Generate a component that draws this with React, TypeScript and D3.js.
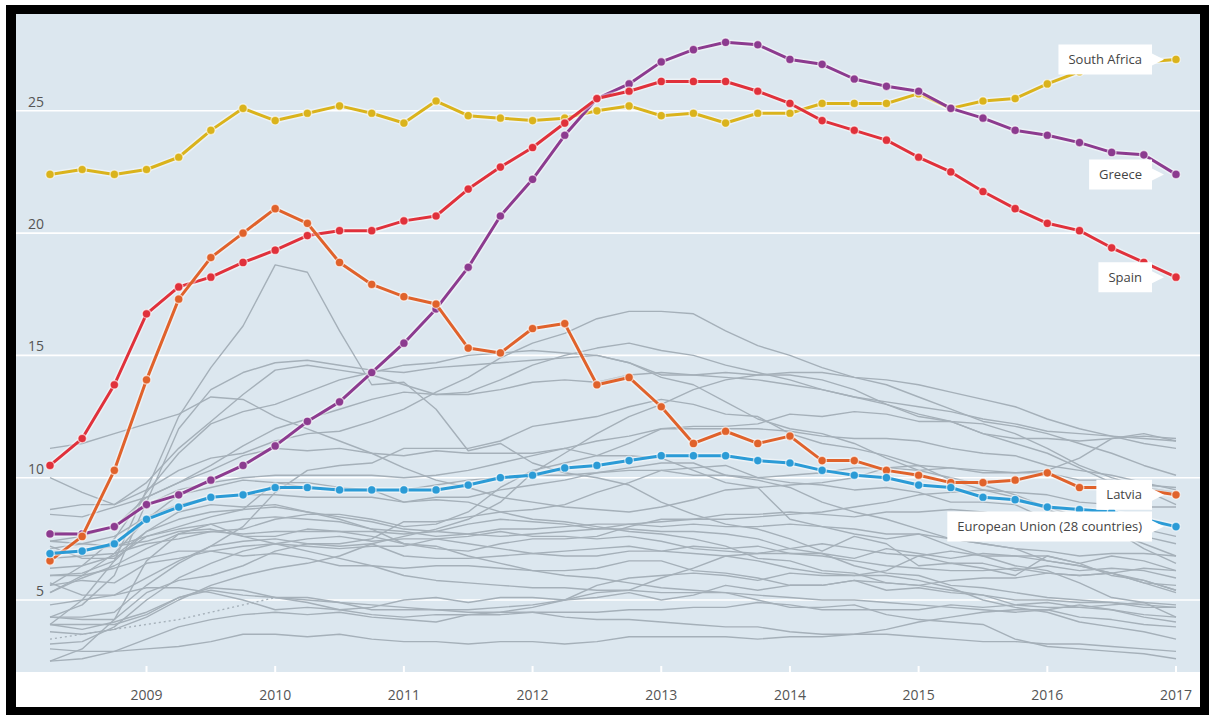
import React from "react";
import { scaleLinear, line, range } from "d3";

const width = 1209;
const height = 715;

// quarterly observations, 2008 Q2 .. 2017 Q1
const quarters = range(36).map((i) => 2008.25 + i * 0.25);
const yearTicks = [2009, 2010, 2011, 2012, 2013, 2014, 2015, 2016, 2017];
const valueTicks = [5, 10, 15, 20, 25];

const southAfrica = [22.4, 22.6, 22.4, 22.6, 23.1, 24.2, 25.1, 24.6, 24.9, 25.2, 24.9, 24.5, 25.4, 24.8, 24.7, 24.6, 24.7, 25.0, 25.2, 24.8, 24.9, 24.5, 24.9, 24.9, 25.3, 25.3, 25.3, 25.7, 25.1, 25.4, 25.5, 26.1, 26.6, 26.9, 27.0, 27.1];
const greece = [7.7, 7.7, 8.0, 8.9, 9.3, 9.9, 10.5, 11.3, 12.3, 13.1, 14.3, 15.5, 16.9, 18.6, 20.7, 22.2, 24.0, 25.5, 26.1, 27.0, 27.5, 27.8, 27.7, 27.1, 26.9, 26.3, 26.0, 25.8, 25.1, 24.7, 24.2, 24.0, 23.7, 23.3, 23.2, 22.4];
const spain = [10.5, 11.6, 13.8, 16.7, 17.8, 18.2, 18.8, 19.3, 19.9, 20.1, 20.1, 20.5, 20.7, 21.8, 22.7, 23.5, 24.5, 25.5, 25.8, 26.2, 26.2, 26.2, 25.8, 25.3, 24.6, 24.2, 23.8, 23.1, 22.5, 21.7, 21.0, 20.4, 20.1, 19.4, 18.8, 18.2];
const latvia = [6.6, 7.6, 10.3, 14.0, 17.3, 19.0, 20.0, 21.0, 20.4, 18.8, 17.9, 17.4, 17.1, 15.3, 15.1, 16.1, 16.3, 13.8, 14.1, 12.9, 11.4, 11.9, 11.4, 11.7, 10.7, 10.7, 10.3, 10.1, 9.8, 9.8, 9.9, 10.2, 9.6, 9.6, 9.5, 9.3];
const euro28 = [6.9, 7.0, 7.3, 8.3, 8.8, 9.2, 9.3, 9.6, 9.6, 9.5, 9.5, 9.5, 9.5, 9.7, 10.0, 10.1, 10.4, 10.5, 10.7, 10.9, 10.9, 10.9, 10.7, 10.6, 10.3, 10.1, 10.0, 9.7, 9.6, 9.2, 9.1, 8.8, 8.7, 8.6, 8.3, 8.0];

const highlighted = [
  { name: "South Africa", values: southAfrica, color: "#dab31c" },
  { name: "Greece", values: greece, color: "#8c3b8f" },
  { name: "Spain", values: spain, color: "#e0313b" },
  { name: "Latvia", values: latvia, color: "#e0622b" },
  { name: "European Union (28 countries)", values: euro28, color: "#2b9bd6" },
];

// the other countries, drawn in grey
const estonia = [4.0, 5.0, 6.6, 9.5, 12.5, 14.5, 16.2, 18.7, 18.4, 16.0, 13.8, 13.9, 12.8, 11.1, 11.4, 10.6, 10.2, 10.0, 9.7, 9.0, 8.5, 8.1, 7.9, 7.5, 7.0, 7.6, 7.3, 6.4, 6.5, 6.3, 6.0, 6.8, 6.5, 6.8, 6.6, 6.2];
const lithuania = [4.3, 4.8, 6.0, 9.0, 12.0, 13.6, 14.3, 14.7, 14.8, 14.6, 14.4, 14.3, 14.5, 14.6, 14.7, 14.8, 14.9, 15.0, 14.7, 14.2, 14.2, 14.3, 14.2, 14.2, 14.0, 13.6, 13.0, 12.5, 12.3, 12.2, 11.8, 11.2, 10.5, 10.0, 9.6, 9.4];
const portugal = [8.7, 8.9, 8.9, 9.5, 10.3, 10.8, 11.0, 11.5, 11.8, 11.9, 12.3, 12.8, 13.5, 14.1, 14.9, 15.5, 15.9, 16.5, 16.8, 16.8, 16.7, 16.0, 15.4, 15.0, 14.5, 14.1, 13.8, 13.3, 12.8, 12.3, 12.1, 11.8, 11.4, 11.0, 10.5, 10.1];
const croatia = [8.5, 8.4, 8.8, 9.2, 9.8, 10.5, 11.3, 12.0, 12.4, 12.8, 13.2, 13.5, 13.4, 13.5, 14.0, 14.6, 15.0, 15.3, 15.5, 15.2, 15.0, 14.6, 14.3, 14.0, 13.6, 13.3, 13.1, 12.9, 12.7, 12.4, 12.2, 11.9, 11.8, 11.7, 11.6, 11.5];
const cyprus = [3.7, 3.6, 3.8, 4.3, 5.0, 5.6, 6.0, 6.3, 6.5, 6.8, 7.3, 7.6, 7.9, 8.3, 9.0, 10.2, 11.0, 11.8, 12.5, 13.0, 13.6, 14.0, 14.2, 14.3, 14.3, 14.1, 14.0, 13.8, 13.5, 13.2, 12.9, 12.4, 12.0, 11.7, 11.4, 11.2];
const slovakia = [10.0, 9.4, 8.9, 9.8, 11.2, 12.3, 13.4, 14.4, 14.6, 14.4, 14.2, 13.8, 13.4, 13.4, 13.6, 13.9, 14.0, 13.9, 14.2, 14.3, 14.2, 14.1, 14.0, 13.8, 13.6, 13.3, 13.0, 12.6, 12.3, 11.8, 11.4, 11.0, 10.4, 9.8, 9.5, 8.9];
const ireland = [5.6, 6.4, 7.5, 9.4, 11.0, 12.2, 12.7, 13.0, 13.5, 14.0, 14.3, 14.6, 14.7, 15.0, 15.1, 15.2, 15.1, 15.0, 14.7, 14.1, 13.8, 13.1, 12.4, 12.0, 11.8, 11.4, 10.8, 10.3, 10.0, 9.7, 9.3, 8.8, 8.4, 7.9, 7.1, 6.5];
const bulgaria = [5.7, 5.2, 5.2, 5.9, 6.6, 7.2, 8.0, 9.4, 10.3, 10.5, 10.6, 11.2, 11.2, 11.2, 11.5, 12.1, 12.3, 12.5, 12.9, 13.2, 13.0, 12.6, 12.5, 11.8, 11.4, 11.2, 10.9, 10.5, 9.9, 9.5, 9.2, 8.7, 8.2, 7.8, 7.3, 6.8];
const italy = [6.7, 6.8, 6.9, 7.3, 7.5, 7.8, 7.9, 8.3, 8.5, 8.5, 8.3, 8.0, 8.1, 8.6, 9.6, 10.3, 10.6, 10.9, 11.4, 12.0, 12.1, 12.1, 12.2, 12.6, 12.5, 12.7, 12.6, 12.3, 12.3, 11.8, 11.6, 11.6, 11.5, 11.6, 11.7, 11.6];
const turkey = [11.2, 11.4, 11.8, 12.2, 12.6, 13.3, 13.2, 12.5, 12.0, 11.5, 11.0, 10.4, 9.9, 9.6, 9.2, 9.0, 8.8, 8.7, 8.6, 8.8, 9.1, 9.5, 9.6, 9.7, 9.8, 10.0, 10.4, 10.5, 10.4, 10.2, 10.2, 10.3, 10.8, 11.6, 11.8, 11.5];
const france = [7.1, 7.3, 7.6, 8.4, 8.9, 9.2, 9.3, 9.3, 9.2, 9.2, 9.2, 9.0, 9.2, 9.2, 9.5, 9.7, 9.9, 10.2, 10.3, 10.3, 10.1, 10.1, 10.0, 10.1, 10.2, 10.4, 10.4, 10.3, 10.4, 10.3, 10.2, 10.2, 9.9, 9.9, 9.7, 9.6];
const euroArea = [7.4, 7.6, 8.0, 8.9, 9.5, 9.8, 10.0, 10.1, 10.1, 10.1, 10.1, 10.0, 10.1, 10.3, 10.6, 10.9, 11.2, 11.5, 11.7, 12.0, 12.0, 12.0, 12.0, 11.9, 11.7, 11.6, 11.6, 11.5, 11.2, 11.0, 10.9, 10.5, 10.3, 10.1, 9.8, 9.5];
const poland = [7.2, 6.7, 6.7, 7.6, 8.0, 8.4, 8.7, 9.8, 9.8, 9.6, 9.5, 9.5, 9.7, 9.9, 10.0, 10.1, 10.1, 10.2, 10.4, 10.6, 10.6, 10.1, 9.9, 9.6, 9.0, 8.6, 8.3, 7.9, 7.5, 7.3, 7.1, 6.6, 6.4, 6.1, 5.7, 5.3];
const hungary = [7.8, 7.7, 8.0, 9.2, 9.8, 10.3, 10.9, 11.2, 11.1, 11.2, 11.0, 10.9, 11.1, 11.0, 11.0, 11.0, 11.2, 10.9, 10.9, 10.8, 10.3, 9.8, 9.6, 8.3, 8.0, 7.7, 7.5, 7.7, 7.2, 6.8, 6.4, 6.2, 5.7, 5.1, 4.9, 4.3];
const slovenia = [4.3, 4.2, 4.2, 5.3, 5.8, 6.0, 6.4, 7.0, 7.3, 7.3, 7.5, 8.2, 8.2, 8.4, 8.6, 8.7, 8.9, 9.4, 9.8, 10.3, 10.4, 10.5, 10.0, 9.8, 9.7, 9.5, 9.6, 9.4, 9.0, 9.0, 8.9, 8.3, 8.3, 8.0, 7.9, 7.6];
const finland = [6.3, 6.4, 6.8, 7.8, 8.3, 8.6, 8.7, 8.8, 8.6, 8.4, 8.2, 7.9, 7.8, 7.7, 7.6, 7.7, 7.8, 7.9, 8.1, 8.2, 8.3, 8.3, 8.4, 8.5, 8.6, 8.8, 9.0, 9.3, 9.4, 9.5, 9.4, 9.3, 9.0, 8.9, 8.8, 8.8];
const sweden = [6.0, 6.1, 6.6, 7.8, 8.6, 8.9, 8.8, 8.9, 8.6, 8.3, 7.9, 7.8, 7.6, 7.7, 7.9, 7.9, 8.0, 8.1, 8.1, 8.0, 8.1, 8.0, 8.0, 8.1, 8.0, 7.9, 7.7, 7.7, 7.5, 7.3, 7.1, 7.0, 6.8, 6.9, 6.9, 6.8];
const unitedKingdom = [5.3, 5.9, 6.4, 7.1, 7.7, 7.8, 7.7, 7.8, 7.8, 7.8, 7.8, 7.7, 7.8, 8.1, 8.3, 8.2, 8.1, 7.9, 7.9, 7.8, 7.8, 7.7, 7.5, 7.1, 6.9, 6.4, 6.1, 6.0, 5.6, 5.5, 5.3, 5.1, 5.0, 4.9, 4.8, 4.7];
const denmark = [3.2, 3.3, 3.9, 5.0, 5.9, 6.5, 7.0, 7.3, 7.5, 7.6, 7.4, 7.5, 7.5, 7.6, 7.8, 7.6, 7.6, 7.5, 7.6, 7.4, 7.1, 7.0, 6.9, 6.9, 6.8, 6.6, 6.4, 6.3, 6.2, 6.2, 6.3, 6.1, 6.0, 6.1, 6.3, 6.2];
const netherlands = [3.0, 2.9, 2.9, 3.4, 3.9, 4.2, 4.4, 4.5, 4.4, 4.5, 4.3, 4.2, 4.1, 4.4, 4.5, 4.7, 5.0, 5.3, 5.4, 5.9, 6.3, 6.8, 6.9, 7.1, 7.3, 7.1, 6.9, 6.8, 7.0, 6.8, 6.8, 6.6, 6.4, 6.1, 5.8, 5.4];
const belgium = [7.0, 7.0, 7.2, 7.6, 7.9, 8.1, 8.3, 8.4, 8.3, 8.2, 7.9, 7.3, 7.1, 7.0, 7.3, 7.5, 7.5, 7.6, 8.0, 8.3, 8.3, 8.5, 8.5, 8.6, 8.5, 8.4, 8.6, 8.6, 8.7, 8.6, 8.4, 8.0, 7.9, 7.9, 7.6, 7.3];
const austria = [4.0, 3.8, 4.1, 4.5, 5.1, 5.5, 5.4, 5.1, 5.0, 4.9, 4.6, 4.6, 4.6, 4.6, 4.7, 4.8, 5.0, 5.1, 5.3, 5.0, 5.2, 5.6, 5.4, 5.6, 5.6, 5.8, 5.7, 5.6, 5.8, 5.9, 5.9, 6.1, 6.0, 6.1, 5.7, 5.6];
const germany = [7.4, 7.3, 7.2, 7.4, 7.8, 7.9, 7.6, 7.3, 7.0, 6.7, 6.4, 6.0, 5.8, 5.7, 5.6, 5.5, 5.5, 5.4, 5.4, 5.3, 5.3, 5.3, 5.2, 5.1, 5.0, 5.0, 4.9, 4.8, 4.7, 4.6, 4.5, 4.6, 4.3, 4.2, 4.0, 3.9];
const czechia = [4.3, 4.3, 4.5, 5.6, 6.5, 7.2, 7.4, 7.5, 7.3, 7.2, 7.3, 6.8, 6.7, 6.7, 6.8, 6.9, 7.0, 7.1, 7.2, 7.0, 6.9, 6.8, 6.6, 6.3, 6.1, 6.0, 6.0, 5.8, 5.5, 5.0, 4.7, 4.5, 4.1, 3.9, 3.7, 3.4];
const romania = [5.6, 5.8, 5.7, 6.5, 6.7, 7.0, 7.2, 7.3, 7.2, 7.1, 7.2, 7.2, 7.5, 7.3, 7.1, 6.9, 6.8, 6.8, 7.0, 7.0, 7.2, 7.1, 7.2, 6.9, 6.9, 6.7, 7.1, 6.9, 6.7, 6.9, 6.8, 6.8, 6.5, 6.0, 5.8, 5.4];
const luxembourg = [4.8, 5.0, 5.2, 5.5, 5.5, 5.3, 5.0, 4.6, 4.7, 4.6, 4.7, 5.0, 5.1, 4.9, 5.1, 5.1, 5.0, 5.6, 5.9, 6.0, 6.1, 6.0, 5.8, 6.1, 6.0, 6.0, 6.2, 6.8, 6.5, 6.5, 6.2, 6.4, 6.2, 6.3, 6.2, 5.9];
const malta = [6.0, 6.0, 6.3, 6.7, 7.0, 7.0, 6.8, 6.9, 6.7, 6.4, 6.4, 6.3, 6.4, 6.4, 6.3, 6.2, 6.2, 6.3, 6.6, 6.6, 6.2, 6.1, 5.9, 5.6, 5.6, 5.8, 5.4, 5.5, 5.3, 5.2, 4.8, 4.7, 4.7, 4.6, 4.3, 4.1];
const norway = [2.5, 2.6, 2.9, 3.0, 3.1, 3.3, 3.6, 3.6, 3.5, 3.6, 3.4, 3.3, 3.3, 3.2, 3.3, 3.3, 3.2, 3.3, 3.5, 3.5, 3.5, 3.5, 3.4, 3.5, 3.5, 3.6, 3.8, 4.1, 4.3, 4.5, 4.6, 4.6, 4.8, 4.6, 4.4, 4.3];
const iceland = [2.5, 3.0, 4.2, 6.6, 7.7, 8.1, 7.6, 7.6, 7.9, 7.8, 7.6, 7.3, 7.2, 6.8, 6.5, 6.2, 6.0, 5.9, 5.7, 5.5, 5.4, 5.3, 5.0, 4.7, 4.7, 4.8, 4.4, 4.2, 4.1, 4.0, 3.4, 3.1, 3.0, 2.9, 2.8, 2.6];
const switzerland = [3.4, 3.6, 3.8, 4.0, 4.2, 4.5, 4.8, 5.1, 4.9, 4.6, 4.4, 4.3, 4.4, 4.4, 4.4, 4.5, 4.5, 4.5, 4.6, 4.6, 4.7, 4.7, 4.9, 4.8, 4.6, 4.6, 4.6, 4.6, 4.8, 4.7, 4.8, 4.9, 4.7, 4.8, 4.9, 4.8];
const japan = [4.0, 4.0, 4.0, 4.4, 5.1, 5.4, 5.2, 5.1, 5.1, 4.9, 4.8, 4.7, 4.6, 4.5, 4.5, 4.5, 4.3, 4.2, 4.2, 4.1, 4.0, 3.9, 3.9, 3.7, 3.6, 3.6, 3.6, 3.5, 3.4, 3.3, 3.3, 3.2, 3.2, 3.1, 3.0, 2.9];
const unitedStates = [5.3, 6.0, 6.9, 8.3, 9.3, 9.6, 9.9, 9.8, 9.6, 9.5, 9.5, 9.0, 9.1, 9.0, 8.6, 8.3, 8.2, 8.0, 7.8, 7.7, 7.5, 7.2, 6.7, 6.6, 6.2, 6.1, 5.7, 5.6, 5.4, 5.2, 5.0, 5.0, 4.9, 4.9, 4.7, 4.7];

const others = [estonia, lithuania, portugal, croatia, cyprus, slovakia, ireland, bulgaria, italy, turkey, france, euroArea, poland, hungary, slovenia, finland, sweden, unitedKingdom, denmark, netherlands, belgium, austria, germany, czechia, romania, luxembourg, malta, norway, iceland, japan, unitedStates];
// Switzerland only has annual figures early on: that part is dotted
const switzerlandDottedUntil = 7;

const plot = { left: 16, top: 14, right: 1200, bottom: 672 };

const font = "'Open Sans', 'DejaVu Sans', sans-serif";

const measure = (() => {
  let ctx: CanvasRenderingContext2D | null = null;
  return (text: string) => {
    if (!ctx) ctx = document.createElement("canvas").getContext("2d");
    if (!ctx) return text.length * 7;
    ctx.font = `13px ${font}`;
    return ctx.measureText(text).width;
  };
})();

export default function App() {
  const xScale = scaleLinear().domain([2008.25, 2017]).range([50, 1176]);
  const yScale = scaleLinear().domain([5, 25]).range([600, 110.8]);

  const path = line<number>()
    .x((d, i) => xScale(quarters[i]))
    .y((d) => yScale(d));

  const last = quarters.length - 1;

  return (
    <div style={{ position: "absolute", left: 0, top: 0 }}>
      <svg width={width} height={height} style={{ display: "block", fontFamily: font }}>
        <rect width={width} height={height} fill="#fff" />
        <rect x={6} y={5} width={width - 6} height={height - 5} fill="#000" />
        <rect x={plot.left} y={plot.top} width={plot.right - plot.left} height={707 - plot.top} fill="#fff" />
        <rect x={plot.left} y={plot.top} width={plot.right - plot.left} height={plot.bottom - plot.top} fill="#dce7ef" />

        {/* grid */}
        {valueTicks.map((t) => (
          <g key={t}>
            <line x1={plot.left} x2={plot.right} y1={yScale(t)} y2={yScale(t)} stroke="#fff" strokeWidth={1.6} />
            <text x={44} y={yScale(t) - 4} textAnchor="end" fontSize={14} fill="#555">
              {t}
            </text>
          </g>
        ))}

        {/* x axis */}
        {yearTicks.map((t) => (
          <g key={t} transform={`translate(${xScale(t)},0)`}>
            <line y1={plot.bottom - 6} y2={plot.bottom} stroke="#fff" strokeWidth={2} />
            <text y={700} textAnchor="middle" fontSize={14} fill="#555">
              {t}
            </text>
          </g>
        ))}

        {/* grey countries */}
        <g fill="none" stroke="#a5b0b9" strokeWidth={1.4} strokeLinejoin="round">
          {others.map((s, k) => (
            <path key={k} d={path(s) || ""} />
          ))}
          <path
            d={path.defined((d, i) => i <= switzerlandDottedUntil)(switzerland) || ""}
            strokeDasharray="2,3"
          />
          <path d={path.defined((d, i) => i >= switzerlandDottedUntil)(switzerland) || ""} />
        </g>

        {/* highlighted series */}
        {highlighted.map((s) => {
          path.defined(() => true);
          const d = path(s.values) || "";
          return (
            <g key={s.name}>
              <path d={d} fill="none" stroke="#fff" strokeOpacity={0.45} strokeWidth={6} />
              <path d={d} fill="none" stroke={s.color} strokeWidth={3} strokeLinejoin="round" />
              {s.values.map((v, i) => (
                <circle
                  key={i}
                  cx={xScale(quarters[i])}
                  cy={yScale(v)}
                  r={4.3}
                  fill={s.color}
                  stroke="#fff"
                  strokeOpacity={0.6}
                  strokeWidth={1.4}
                />
              ))}
            </g>
          );
        })}

        {/* labels */}
        {highlighted.map((s) => {
          const px = xScale(quarters[last]);
          const py = yScale(s.values[last]);
          const w = measure(s.name) + 20;
          const right = px - 24;
          const h = 30;
          return (
            <g key={s.name}>
              <path
                d={`M${right - w},${py - h / 2}H${right}V${py - 6}L${right + 12},${py}L${right},${py + 6}V${py + h / 2}H${right - w}Z`}
                fill="#fff"
              />
              <text x={right - 10} y={py} dy="0.35em" textAnchor="end" fontSize={13} fill="#444">
                {s.name}
              </text>
            </g>
          );
        })}
      </svg>
    </div>
  );
}
